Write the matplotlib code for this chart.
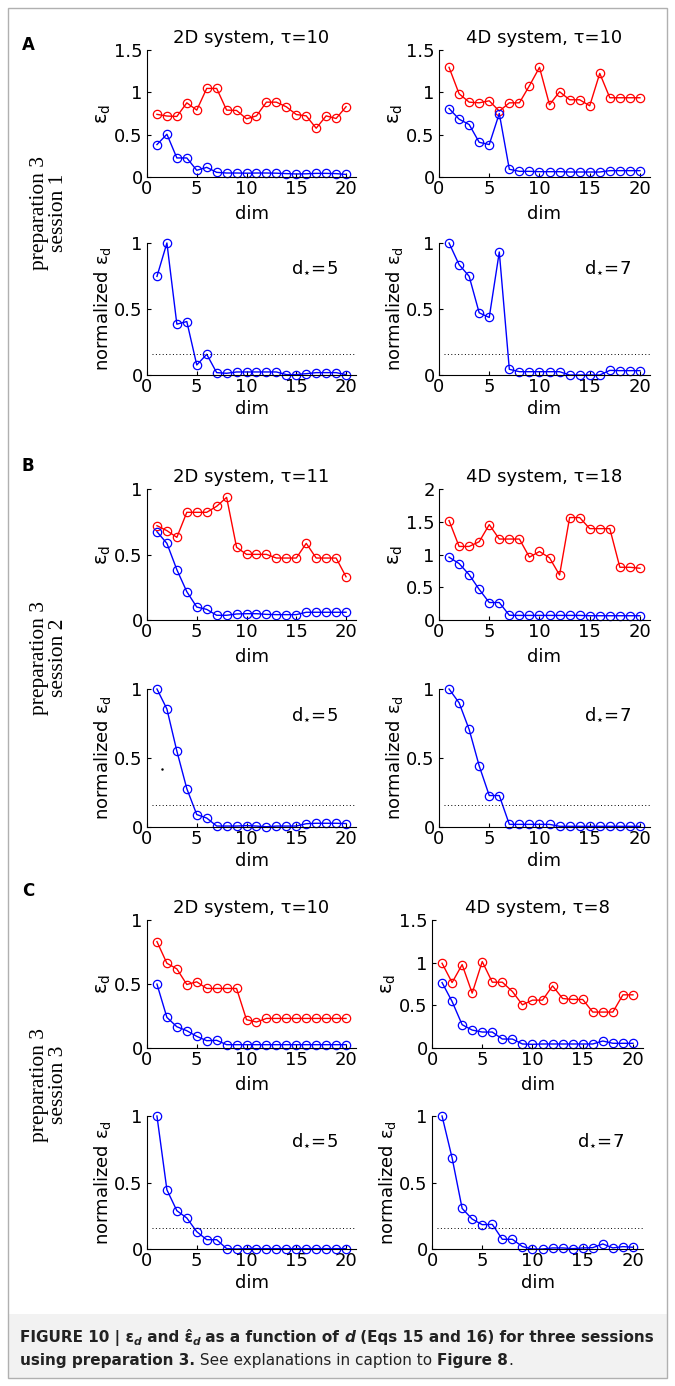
import matplotlib
matplotlib.use("Agg")
import matplotlib.pyplot as plt
from matplotlib.patches import Rectangle
import numpy as np

plt.rcParams['font.family'] = ['DejaVu Sans']
plt.rcParams['mathtext.fontset'] = 'dejavusans'

dims = list(range(1, 21))

# ---- Session 1 (A) ----
a_2d_red = [0.74, 0.72, 0.715, 0.876, 0.79, 1.046, 1.046, 0.79, 0.786, 0.687,
            0.722, 0.884, 0.884, 0.829, 0.738, 0.722, 0.576, 0.722, 0.691, 0.83]
a_2d_blue = [0.383, 0.505, 0.225, 0.225, 0.079, 0.114, 0.055, 0.047, 0.047, 0.045,
             0.047, 0.047, 0.045, 0.04, 0.036, 0.038, 0.043, 0.043, 0.04, 0.03]
a_4d_red = [1.295, 0.983, 0.884, 0.876, 0.9, 0.778, 0.876, 0.876, 1.078, 1.295,
            0.853, 1.007, 0.912, 0.912, 0.841, 1.224, 0.936, 0.936, 0.936, 0.936]
a_4d_blue = [0.809, 0.683, 0.62, 0.41, 0.383, 0.75, 0.091, 0.067, 0.067, 0.063,
             0.063, 0.063, 0.059, 0.059, 0.059, 0.059, 0.075, 0.075, 0.075, 0.075]
a_2d_norm = [0.747, 1.0, 0.385, 0.405, 0.076, 0.157, 0.018, 0.013, 0.023, 0.023,
             0.023, 0.023, 0.023, 0.003, 0.003, 0.01, 0.018, 0.018, 0.018, 0.003]
a_4d_norm = [1.0, 0.836, 0.748, 0.471, 0.436, 0.932, 0.043, 0.025, 0.025, 0.025,
             0.025, 0.025, 0.0, 0.0, 0.0, 0.0, 0.035, 0.033, 0.033, 0.033]

# ---- Session 2 (B) ----
b_2d_red = [0.72, 0.682, 0.631, 0.822, 0.822, 0.822, 0.868, 0.936, 0.555, 0.501,
            0.501, 0.501, 0.473, 0.473, 0.473, 0.585, 0.473, 0.473, 0.473, 0.33]
b_2d_blue = [0.674, 0.585, 0.384, 0.216, 0.099, 0.081, 0.036, 0.036, 0.046, 0.048,
             0.048, 0.043, 0.041, 0.041, 0.041, 0.059, 0.059, 0.059, 0.059, 0.059]
b_4d_red = [1.518, 1.123, 1.123, 1.195, 1.456, 1.236, 1.236, 1.236, 0.959, 1.046,
            0.949, 0.687, 1.564, 1.564, 1.395, 1.395, 1.395, 0.805, 0.805, 0.79]
b_4d_blue = [0.959, 0.862, 0.692, 0.467, 0.267, 0.267, 0.072, 0.07, 0.07, 0.07,
             0.07, 0.07, 0.07, 0.07, 0.065, 0.065, 0.065, 0.065, 0.065, 0.065]
b_2d_norm = [1.0, 0.855, 0.55, 0.278, 0.09, 0.065, 0.007, 0.007, 0.007, 0.01,
             0.007, 0.002, 0.007, 0.007, 0.007, 0.024, 0.027, 0.027, 0.027, 0.025]
b_4d_norm = [1.0, 0.9, 0.707, 0.443, 0.228, 0.228, 0.019, 0.019, 0.019, 0.019,
             0.019, 0.005, 0.005, 0.005, 0.005, 0.005, 0.005, 0.005, 0.005, 0.005]

# ---- Session 3 (C) ----
c_2d_red = [0.831, 0.662, 0.618, 0.496, 0.517, 0.465, 0.465, 0.465, 0.465, 0.221,
            0.203, 0.231, 0.231, 0.231, 0.231, 0.231, 0.231, 0.231, 0.231, 0.231]
c_2d_blue = [0.499, 0.239, 0.166, 0.135, 0.091, 0.057, 0.06, 0.026, 0.026, 0.026,
             0.026, 0.026, 0.026, 0.026, 0.026, 0.026, 0.026, 0.026, 0.026, 0.026]
c_4d_red = [0.993, 0.767, 0.977, 0.643, 1.013, 0.771, 0.771, 0.662, 0.506, 0.561,
            0.561, 0.728, 0.58, 0.569, 0.569, 0.421, 0.421, 0.421, 0.623, 0.623]
c_4d_blue = [0.767, 0.545, 0.273, 0.21, 0.187, 0.187, 0.105, 0.105, 0.047, 0.043,
             0.047, 0.047, 0.047, 0.047, 0.047, 0.047, 0.082, 0.055, 0.055, 0.055]
c_2d_norm = [1.0, 0.445, 0.288, 0.233, 0.13, 0.07, 0.07, 0.003, 0.0, 0.003,
             0.003, 0.003, 0.003, 0.003, 0.003, 0.003, 0.003, 0.003, 0.003, 0.003]
c_4d_norm = [1.0, 0.685, 0.305, 0.225, 0.183, 0.185, 0.073, 0.073, 0.018, 0.0,
             0.0, 0.008, 0.008, 0.003, 0.008, 0.01, 0.038, 0.008, 0.018, 0.013]

titles = [("2D system, \u03c4=10", "4D system, \u03c4=10"),
          ("2D system, \u03c4=11", "4D system, \u03c4=18"),
          ("2D system, \u03c4=10", "4D system, \u03c4=8")]
top_ylims = [(1.5, 1.5), (1.0, 2.0), (1.0, 1.5)]
top_yticks = [([0, 0.5, 1, 1.5], [0, 0.5, 1, 1.5]),
              ([0, 0.5, 1], [0, 0.5, 1, 1.5, 2]),
              ([0, 0.5, 1], [0, 0.5, 1, 1.5])]
panel_letters = ["A", "B", "C"]
session_labels = ["preparation 3\nsession 1", "preparation 3\nsession 2",
                  "preparation 3\nsession 3"]
dstar = ("d$_{\\star}$=5", "d$_{\\star}$=7")
threshold = 0.16

top_red = [(a_2d_red, a_4d_red), (b_2d_red, b_4d_red), (c_2d_red, c_4d_red)]
top_blue = [(a_2d_blue, a_4d_blue), (b_2d_blue, b_4d_blue), (c_2d_blue, c_4d_blue)]
norms = [(a_2d_norm, a_4d_norm), (b_2d_norm, b_4d_norm), (c_2d_norm, c_4d_norm)]

W, H = 675, 1386
fig = plt.figure(figsize=(W / 100, H / 100), dpi=100)

# frame and caption background
fig.patches.append(Rectangle((8 / W, 1 - 1378 / H), 659 / W, 64 / H,
                             transform=fig.transFigure, facecolor='#f2f2f2',
                             edgecolor='none', zorder=0))
fig.patches.append(Rectangle((8 / W, 1 - 1378 / H), 659 / W, 1370 / H,
                             transform=fig.transFigure, facecolor='none',
                             edgecolor='#b0b0b0', lw=1.0, zorder=1))

def px_axes(x0, y0, x1, y1):
    return fig.add_axes([x0 / W, 1 - y1 / H, (x1 - x0) / W, (y1 - y0) / H])

# pixel boxes (left, top, right, bottom)
top_boxes = [
    [(147, 50, 356, 177), (439, 50, 650, 177)],
    [(147, 489, 356, 620), (439, 489, 650, 620)],
    [(147, 920, 356, 1048), (432, 920, 643, 1048)],
]
bot_boxes = [
    [(147, 243, 356, 375), (439, 243, 650, 375)],
    [(147, 689, 356, 827), (439, 689, 650, 827)],
    [(147, 1116, 356, 1249), (432, 1116, 643, 1249)],
]

FS = 13
mk = dict(marker='o', ms=6, mfc='none', mew=0.9, lw=1.0)

def style(ax, lpad):
    for s in ['top', 'right']:
        ax.spines[s].set_visible(False)
    ax.spines['left'].set_linewidth(0.8)
    ax.spines['bottom'].set_linewidth(0.8)
    ax.tick_params(direction='in', length=3, width=0.8, labelsize=FS, pad=2)
    ax.tick_params(axis='y', pad=3)
    ax.set_xlim(0, 21)
    ax.set_xticks([0, 5, 10, 15, 20])
    ax.set_xlabel("dim", fontsize=FS, labelpad=lpad)
    ax.patch.set_alpha(0)

for r in range(3):
    for c in range(2):
        ax = px_axes(*top_boxes[r][c])
        ax.plot(dims, top_red[r][c], color='#ff0000', **mk, clip_on=False)
        ax.plot(dims, top_blue[r][c], color='#0000ff', **mk, clip_on=False)
        ax.set_ylim(0, top_ylims[r][c])
        ax.set_yticks(top_yticks[r][c])
        ax.set_yticklabels([f"{v:g}" for v in top_yticks[r][c]])
        style(ax, 5)
        ax.set_title(titles[r][c], fontsize=FS, pad=5)
        ax.set_ylabel("\u03b5$_{\\rm d}$", fontsize=FS + 1, labelpad=1)

        axb = px_axes(*bot_boxes[r][c])
        axb.plot(dims, norms[r][c], color='#0000ff', **mk, clip_on=False)
        axb.plot([0.5, 21], [threshold, threshold], ls=(0, (1, 2.5)), color='k', lw=0.7)
        axb.set_ylim(0, 1)
        axb.set_yticks([0, 0.5, 1])
        axb.set_yticklabels(["0", "0.5", "1"])
        style(axb, 3)
        axb.set_ylabel("normalized \u03b5$_{\\rm d}$", fontsize=FS, labelpad=1)
        axb.text(0.8, 0.81, dstar[c], transform=axb.transAxes, fontsize=FS,
                 ha='center', va='center')
        if r == 1 and c == 0:
            axb.plot([1.5], [0.42], marker='.', ms=1.5, color='k')

letter_y = [45, 466, 891]
for r in range(3):
    yc = (top_boxes[r][0][1] + bot_boxes[r][0][3]) / 2
    fig.text(22 / W, 1 - letter_y[r] / H, panel_letters[r],
             fontsize=12, fontweight='bold', ha='left', va='center')
    fig.text(49 / W, 1 - yc / H, session_labels[r], rotation=90,
             family='Liberation Serif', fontsize=15.5, ha='center', va='center',
             multialignment='center', linespacing=1.0)

# caption
fig.canvas.draw()
renderer = fig.canvas.get_renderer()

def chain(pieces, x0, ybase):
    x = x0
    for s, weight, style_, size, dy in pieces:
        t = fig.text(x / W, 1 - (ybase - dy) / H, s, fontsize=size, fontweight=weight,
                     fontstyle=style_, ha='left', va='baseline', color='#222222')
        bb = t.get_window_extent(renderer)
        x += bb.width

cs = 10.95
chain([
    ("FIGURE 10 | \u03b5", 'bold', 'normal', cs, 0),
    ("d", 'bold', 'italic', cs * 0.7, -3),
    (" and \u03b5\u0302", 'bold', 'normal', cs, 0),
    ("d", 'bold', 'italic', cs * 0.7, -3),
    (" as a function of ", 'bold', 'normal', cs, 0),
    ("d", 'bold', 'italic', cs, 0),
    (" (Eqs 15 and 16) for three sessions", 'bold', 'normal', cs, 0),
], 20, 1342)
chain([
    ("using preparation 3.", 'bold', 'normal', cs, 0),
    (" See explanations in caption to ", 'normal', 'normal', cs, 0),
    ("Figure 8", 'bold', 'normal', cs, 0),
    (".", 'normal', 'normal', cs, 0),
], 20, 1365)

fig.savefig("out.png", dpi=100)
